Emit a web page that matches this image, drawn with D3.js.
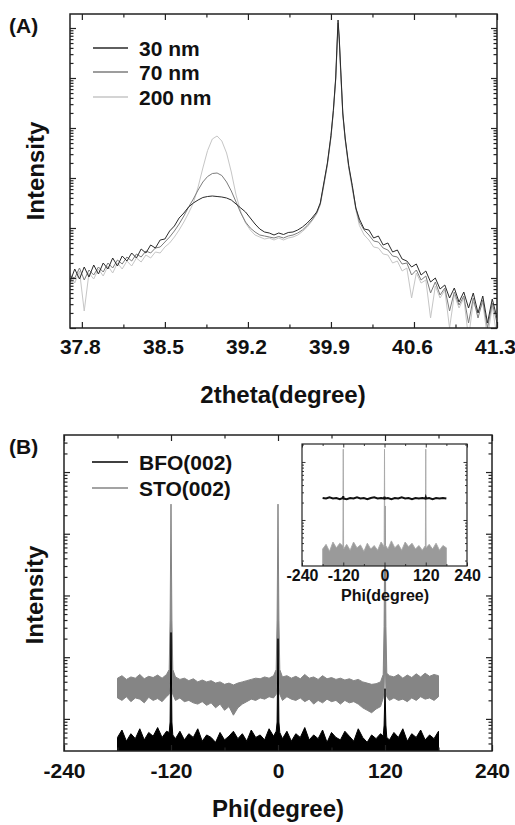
<!DOCTYPE html>
<html><head><meta charset="utf-8">
<script src="https://cdn.jsdelivr.net/npm/d3@7"></script>
<style>body{margin:0;background:#fff;} svg{display:block;}</style>
</head><body>
<svg id="c" width="515" height="825"></svg>
<script>
// ---------------- Panel A data (2theta scan, log10 intensity) ----------------
const twoTheta = [
 37.70,37.74,37.78,37.82,37.86,37.90,37.94,37.98,38.02,38.06,
 38.10,38.14,38.18,38.22,38.26,38.30,38.34,38.38,38.42,38.46,
 38.50,38.54,38.58,38.62,38.66,38.70,38.74,38.78,38.82,38.86,
 38.90,38.94,38.98,39.02,39.06,39.10,39.14,39.18,39.22,39.26,
 39.30,39.34,39.38,39.42,39.46,39.50,39.54,39.58,39.62,39.66,
 39.70,39.74,39.78,
 39.81,39.84,39.87,39.90,39.92,39.94,39.95,39.96,39.97,39.98,40.00,40.02,40.05,40.08,40.11,
 40.14,40.18,40.22,40.26,40.30,40.34,40.38,40.42,40.46,40.50,
 40.54,40.58,40.62,40.66,40.70,40.74,40.78,40.82,40.86,40.90,
 40.94,40.98,41.02,41.06,41.10,41.14,41.18,41.22,41.26,41.30
];
const logI30nm = [
 0.92,1.18,0.98,1.22,1.02,1.26,1.08,1.30,1.18,1.40,
 1.24,1.44,1.34,1.50,1.40,1.58,1.50,1.66,1.60,1.76,
 1.78,1.94,2.04,2.20,2.30,2.42,2.50,2.56,2.61,2.63,
 2.64,2.63,2.62,2.60,2.56,2.48,2.40,2.32,2.20,2.08,
 1.98,1.92,1.90,1.86,1.90,1.87,1.91,1.92,1.96,2.02,
 2.10,2.20,2.32,
 2.50,2.90,3.30,3.85,4.35,5.00,5.60,6.16,5.80,5.30,4.30,3.80,3.25,2.85,2.40,
 2.18,1.98,1.96,1.80,1.84,1.66,1.70,1.52,1.56,1.38,
 1.34,1.22,1.28,1.06,1.14,0.92,1.00,0.78,0.86,0.60,
 0.80,0.52,0.72,0.40,0.70,0.30,0.64,0.10,0.58,0.20
];
const logI70nm = [
 1.04,1.00,1.20,0.96,1.16,1.06,1.22,1.12,1.30,1.20,
 1.36,1.28,1.42,1.34,1.48,1.42,1.54,1.50,1.60,1.62,
 1.72,1.82,1.94,2.08,2.24,2.42,2.58,2.76,2.92,3.03,
 3.09,3.10,3.05,2.92,2.74,2.52,2.30,2.12,2.00,1.92,
 1.86,1.84,1.82,1.80,1.83,1.80,1.84,1.86,1.90,1.96,
 2.05,2.16,2.30,
 2.48,2.87,3.28,3.82,4.32,4.98,5.55,6.10,5.78,5.25,4.28,3.78,3.22,2.82,2.40,
 2.12,1.96,1.86,1.74,1.72,1.60,1.56,1.44,1.42,1.28,
 1.30,1.06,1.16,0.96,1.04,0.70,0.92,0.66,0.80,0.34,
 0.72,0.46,0.64,0.10,0.60,0.20,0.56,0.00,0.50,0.10
];
const logI200nm = [
 1.10,0.90,1.14,0.34,1.10,0.98,1.18,1.04,1.24,1.10,
 1.30,1.18,1.34,1.24,1.40,1.32,1.46,1.40,1.52,1.50,
 1.62,1.70,1.82,1.96,2.12,2.30,2.50,2.82,3.20,3.55,
 3.78,3.84,3.74,3.50,3.12,2.66,2.32,2.10,1.96,1.86,
 1.82,1.78,1.80,1.76,1.80,1.76,1.80,1.82,1.86,1.93,
 2.02,2.14,2.28,
 2.46,2.84,3.25,3.80,4.30,4.95,5.50,6.05,5.75,5.20,4.25,3.75,3.20,2.78,2.36,
 2.05,1.86,1.76,1.62,1.60,1.48,1.46,1.30,1.34,1.14,
 1.20,0.60,1.10,0.90,0.96,0.20,0.84,0.60,0.76,0.00,
 0.66,0.40,0.60,-0.20,0.52,0.30,0.50,-0.20,0.44,-0.20
];
const seriesA = ["30 nm", "70 nm", "200 nm"];
const xTicksA = [37.8, 38.5, 39.2, 39.9, 40.6, 41.3];
const xMinorA = [38.15, 38.85, 39.55, 40.25, 40.95];

// ---------------- Panel B data (phi scan, log10 intensity) ----------------
const phi = [
 -180,-175,-170,-165,-160,-155,-150,-145,-140,-135,-130,-125,
 -122,-121,-120,-119,-118,
 -115,-110,-105,-100,-95,-90,-85,-80,-75,-70,-65,-60,-55,-50,-45,-40,-35,-30,-25,-20,-15,-10,-5,
 -2,-1,0,1,2,
 5,10,15,20,25,30,35,40,45,50,55,60,65,70,75,80,85,90,95,100,105,110,115,
 118,119,120,121,122,
 125,130,135,140,145,150,155,160,165,170,175,180
];
const stoUpper = [
 1.66,1.70,1.64,1.68,1.66,1.72,1.65,1.69,1.67,1.71,1.66,1.72,
 1.80,2.60,4.48,2.60,1.80,
 1.68,1.64,1.66,1.62,1.65,1.60,1.63,1.60,1.62,1.58,1.60,1.56,1.58,1.55,1.58,1.60,1.62,1.64,1.66,1.65,1.68,1.66,1.70,
 1.80,2.60,4.48,2.60,1.80,
 1.68,1.70,1.66,1.69,1.65,1.72,1.66,1.68,1.64,1.70,1.65,1.67,1.64,1.66,1.63,1.65,1.62,1.64,1.60,1.58,1.56,1.57,1.60,
 1.72,2.50,4.45,2.50,1.74,
 1.70,1.68,1.72,1.66,1.71,1.67,1.73,1.68,1.74,1.69,1.72,1.70
];
const stoLower = [
 1.34,1.30,1.36,1.28,1.34,1.32,1.26,1.35,1.30,1.33,1.28,1.36,
 1.40,1.60,2.20,1.60,1.40,
 1.30,1.34,1.28,1.30,1.26,1.24,1.28,1.22,1.26,1.18,1.24,1.14,1.20,1.06,1.18,1.24,1.28,1.32,1.30,1.34,1.32,1.36,1.34,
 1.40,1.60,2.20,1.60,1.40,
 1.30,1.36,1.32,1.30,1.34,1.28,1.32,1.24,1.30,1.26,1.32,1.28,1.30,1.24,1.30,1.26,1.28,1.24,1.18,1.14,1.10,1.16,1.20,
 1.34,1.50,2.10,1.50,1.36,
 1.30,1.34,1.30,1.32,1.28,1.34,1.30,1.36,1.32,1.34,1.30,1.36
];
const bfoUpper = [
 0.70,0.82,0.64,0.76,0.68,0.84,0.66,0.78,0.72,0.86,0.70,0.80,
 0.78,0.95,2.40,0.95,0.74,
 0.68,0.80,0.66,0.76,0.70,0.84,0.64,0.74,0.70,0.62,0.78,0.66,0.72,0.80,0.68,0.76,0.64,0.82,0.70,0.74,0.66,0.84,0.72,
 0.80,0.95,2.30,0.95,0.78,
 0.68,0.80,0.64,0.76,0.70,0.86,0.66,0.74,0.68,0.82,0.62,0.78,0.70,0.66,0.80,0.72,0.64,0.84,0.70,0.62,0.74,0.68,0.76,
 0.72,0.90,1.49,0.90,0.70,
 0.66,0.78,0.70,0.84,0.64,0.76,0.70,0.82,0.66,0.74,0.68,0.80
];
const seriesB = ["BFO(002)", "STO(002)"];
const xTicksB = [-240, -120, 0, 120, 240];
const xMinorB = [-180, -60, 60, 180];

// ---------------- Inset data ----------------
const insetPhi = [
 -180,-170,-160,-150,-140,-130,
 -121,-120,-119,
 -110,-100,-90,-80,-70,-60,-50,-40,-30,-20,-10,
 -1,0,1,
 10,20,30,40,50,60,70,80,90,100,110,
 119,120,121,
 130,140,150,160,170,180
];
const insetStoUpper = [
 1.50,1.58,1.46,1.62,1.52,1.60,
 1.55,3.22,1.50,
 1.58,1.48,1.62,1.52,1.57,1.46,1.60,1.50,1.56,1.48,1.62,
 1.54,3.22,1.58,
 1.50,1.64,1.52,1.58,1.48,1.62,1.54,1.60,1.50,1.56,1.48,
 1.56,3.22,1.52,
 1.58,1.50,1.60,1.48,1.56,1.52
];
const insetBfo = [
 2.38,2.37,2.39,2.37,2.38,2.36,
 2.38,2.41,2.37,
 2.36,2.38,2.37,2.39,2.37,2.38,2.36,2.38,2.39,2.37,2.38,
 2.37,2.40,2.37,
 2.38,2.36,2.38,2.37,2.39,2.37,2.38,2.36,2.38,2.37,2.38,
 2.37,2.39,2.37,
 2.38,2.36,2.38,2.37,2.38,2.37
];
const xTicksInset = [-240, -120, 0, 120, 240];
const xMinorInset = [-180, -60, 60, 180];

// ---------------- Drawing ----------------
const FONT = "'Liberation Sans', Arial, Helvetica, sans-serif";
const INK = "#222";
const svg = d3.select("#c");
svg.append("rect").attr("width", 515).attr("height", 825).attr("fill", "#fff");
const intFmt = d => String(d); // plain hyphen-minus as in the original

function logTicks(scale) {
  const [a, b] = scale.domain();
  const majors = [], minors = [];
  for (let n = Math.floor(Math.log10(a)); n <= Math.ceil(Math.log10(b)); n++) {
    for (let k = 1; k <= 9; k++) {
      const v = k * Math.pow(10, n);
      if (v >= a * 0.9999 && v <= b * 1.0001) (k === 1 ? majors : minors).push(v);
    }
  }
  return { majors, minors };
}

function frame(g, x, y, o) {
  const [x0, x1] = x.range();
  const [y0, y1] = y.range();
  const lt = logTicks(y);
  const sw = o.sw || 1.2;
  function add(axis, tr) {
    const a = g.append("g").attr("transform", tr).call(axis);
    a.select(".domain").remove();
    a.selectAll("line").attr("stroke", INK).attr("stroke-width", sw);
    a.selectAll("text").attr("font-family", FONT).attr("font-weight", "bold")
      .attr("font-size", o.fs).attr("fill", "#111");
    return a;
  }
  add(d3.axisBottom(x).tickValues(o.xMaj).tickSizeInner(-o.maj).tickSizeOuter(0)
      .tickPadding(o.pad).tickFormat(o.fmt), `translate(0,${y0})`);
  add(d3.axisBottom(x).tickValues(o.xMin).tickSizeInner(-o.min).tickSizeOuter(0).tickFormat(""), `translate(0,${y0})`);
  add(d3.axisTop(x).tickValues(o.xMaj).tickSizeInner(-o.maj).tickSizeOuter(0).tickFormat(""), `translate(0,${y1})`);
  add(d3.axisTop(x).tickValues(o.xMin).tickSizeInner(-o.min).tickSizeOuter(0).tickFormat(""), `translate(0,${y1})`);
  add(d3.axisLeft(y).tickValues(lt.majors).tickSizeInner(-o.maj).tickSizeOuter(0).tickFormat(""), `translate(${x0},0)`);
  add(d3.axisLeft(y).tickValues(lt.minors).tickSizeInner(-o.min).tickSizeOuter(0).tickFormat(""), `translate(${x0},0)`);
  add(d3.axisRight(y).tickValues(lt.majors).tickSizeInner(-o.maj).tickSizeOuter(0).tickFormat(""), `translate(${x1},0)`);
  add(d3.axisRight(y).tickValues(lt.minors).tickSizeInner(-o.min).tickSizeOuter(0).tickFormat(""), `translate(${x1},0)`);
  g.append("rect").attr("x", x0).attr("y", y1).attr("width", x1 - x0).attr("height", y0 - y1)
    .attr("fill", "none").attr("stroke", INK).attr("stroke-width", o.fw || 1.5);
}

function text(t, x, y, size, extra) {
  const el = svg.append("text").attr("x", x).attr("y", y).text(t)
    .attr("font-family", FONT).attr("font-weight", "bold").attr("font-size", size).attr("fill", "#111");
  if (extra) extra(el);
  return el;
}

// ===== Panel A =====
const xA = d3.scaleLinear().domain([37.70, 41.30]).range([70, 497]);
const yA = d3.scaleLog().domain([1, Math.pow(10, 6.28)]).range([328, 14]);
const gA = svg.append("g");
svg.append("clipPath").attr("id", "clipA").append("rect").attr("x", 70).attr("y", 14).attr("width", 427).attr("height", 314);
const colorsA = ["#2a2a2a", "#7c7c7c", "#c6c6c6"];
const dataA = [logI30nm, logI70nm, logI200nm];
const lineA = d3.line().x(d => xA(d[0])).y(d => yA(Math.pow(10, d[1])));
const plotA = gA.append("g").attr("clip-path", "url(#clipA)");
[2, 1, 0].forEach(i => {
  plotA.append("path").datum(twoTheta.map((t, j) => [t, dataA[i][j]]))
    .attr("d", lineA).attr("fill", "none").attr("stroke", colorsA[i]).attr("stroke-width", 1);
});
frame(gA, xA, yA, { xMaj: xTicksA, xMin: xMinorA, maj: 6, min: 3.5, pad: 11, fs: 21, fmt: d3.format(".1f") });
gA.selectAll("text").attr("dx", -2);

seriesA.forEach((s, i) => {
  const ly = [48, 72, 97][i];
  svg.append("line").attr("x1", 93).attr("x2", 128).attr("y1", ly).attr("y2", ly)
    .attr("stroke", colorsA[i]).attr("stroke-width", 1.3);
  text(s, 139, ly + 8, 21);
});
text("(A)", 9, 33, 21);
text("2theta(degree)", 283, 403, 24, e => e.attr("text-anchor", "middle"));
text("Intensity", 0, 0, 24, e => e.attr("text-anchor", "middle").attr("transform", "translate(44,171) rotate(-90)"));

// ===== Panel B =====
const xB = d3.scaleLinear().domain([-240, 240]).range([64, 492]);
const yB = d3.scaleLog().domain([Math.pow(10, 0.48), Math.pow(10, 5.6)]).range([751, 435]);
const gB = svg.append("g");
svg.append("clipPath").attr("id", "clipB").append("rect").attr("x", 64).attr("y", 435).attr("width", 428).attr("height", 316);
const plotB = gB.append("g").attr("clip-path", "url(#clipB)");
const p10 = v => Math.pow(10, v);
const stoArea = d3.area().x((d, i) => xB(phi[i])).y0((d, i) => yB(p10(stoLower[i]))).y1((d, i) => yB(p10(stoUpper[i])));
plotB.append("path").datum(phi).attr("d", stoArea)
  .attr("fill", "#858585").attr("stroke", "#858585").attr("stroke-width", 1).attr("stroke-linejoin", "round");
const bfoArea = d3.area().x((d, i) => xB(phi[i])).y0(() => yB.range()[0] + 3).y1((d, i) => yB(p10(bfoUpper[i])));
plotB.append("path").datum(phi).attr("d", bfoArea)
  .attr("fill", "#000").attr("stroke", "#000").attr("stroke-width", 1).attr("stroke-linejoin", "round");
frame(gB, xB, yB, { xMaj: xTicksB, xMin: xMinorB, maj: 6, min: 3.5, pad: 12, fs: 21, fmt: intFmt });

const colorsB = ["#000", "#858585"];
seriesB.forEach((s, i) => {
  const ly = [462, 488][i];
  svg.append("line").attr("x1", 92).attr("x2", 128).attr("y1", ly).attr("y2", ly)
    .attr("stroke", colorsB[i]).attr("stroke-width", 1.3);
  text(s, 139, ly + 8, 21);
});
text("(B)", 9, 454, 21);
text("Phi(degree)", 278, 817, 24, e => e.attr("text-anchor", "middle"));
text("Intensity", 0, 0, 24, e => e.attr("text-anchor", "middle").attr("transform", "translate(43,595) rotate(-90)"));

// ===== Inset =====
const xI = d3.scaleLinear().domain([-240, 240]).range([302, 467]);
const yI = d3.scaleLog().domain([Math.pow(10, 1.207), Math.pow(10, 3.31)]).range([566, 444]);
const gI = svg.append("g");
svg.append("clipPath").attr("id", "clipI").append("rect").attr("x", 302).attr("y", 444).attr("width", 165).attr("height", 122);
const plotI = gI.append("g").attr("clip-path", "url(#clipI)");
const insetStoArea = d3.area().x((d, i) => xI(insetPhi[i])).y0(() => yI.range()[0] + 3).y1((d, i) => yI(p10(insetStoUpper[i])));
plotI.append("path").datum(insetPhi).attr("d", insetStoArea)
  .attr("fill", "#9a9a9a").attr("stroke", "#a8a8a8").attr("stroke-width", 0.9).attr("stroke-linejoin", "round");
const insetLine = d3.line().x((d, i) => xI(insetPhi[i])).y((d, i) => yI(p10(insetBfo[i])));
plotI.append("path").datum(insetPhi).attr("d", insetLine)
  .attr("fill", "none").attr("stroke", "#111").attr("stroke-width", 2);
frame(gI, xI, yI, { xMaj: xTicksInset, xMin: xMinorInset, maj: 3.5, min: 2, pad: 4, fs: 16, fmt: intFmt, sw: 0.9, fw: 1.2 });
text("Phi(degree)", 385, 601, 16, e => e.attr("text-anchor", "middle"));
</script>
</body></html>
